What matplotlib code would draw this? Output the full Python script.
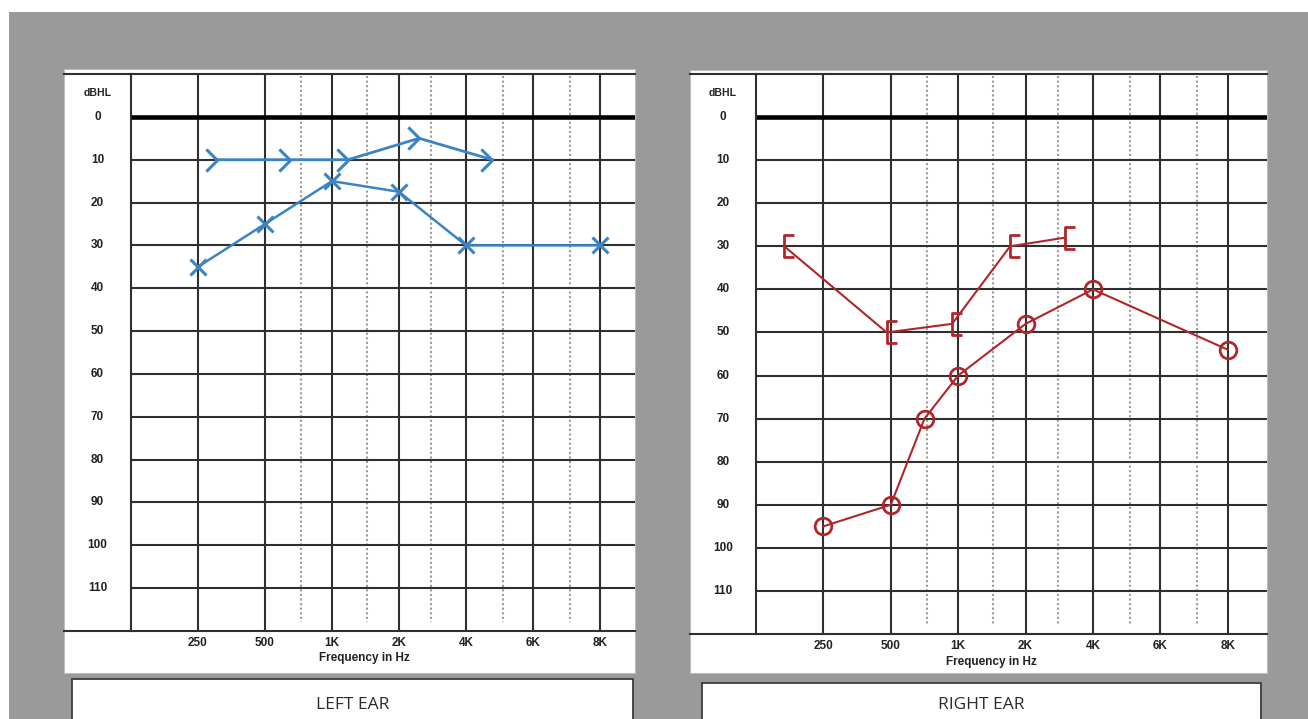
import matplotlib.pyplot as plt
from matplotlib.patches import Rectangle
from matplotlib.path import Path
from matplotlib.lines import Line2D

# frequency columns on the audiogram (index positions 1..7)
freq_labels = ['250', '500', '1K', '2K', '4K', '6K', '8K']
db_levels = [0, 10, 20, 30, 40, 50, 60, 70, 80, 90, 100, 110]

# left ear (blue): air conduction X, bone conduction >
left_air_x = [1, 2, 3, 4, 5, 7]
left_air_db = [35, 25, 15, 17.5, 30, 30]
left_bone_x = [1.28, 2.37, 3.24, 4.3, 5.39]
left_bone_db = [10, 10, 10, 5, 10]

# right ear (red): air conduction O, bone conduction [
right_air_x = [1, 2, 2.5, 3, 4, 5, 7]
right_air_db = [95, 90, 70, 60, 48, 40, 54]
right_bone_x = [0.42, 1.94, 2.91, 3.77, 4.58]
right_bone_db = [30, 50, 48, 30, 28]

W, H = 1308, 719
BLUE = '#3a84c6'
RED = '#b0262b'
GRID = '#2f2f2f'


def fx(x):
    return x / W


def fy(y):
    return 1 - y / H


chevron = Path([(-1, 1), (0, 0), (-1, -1)], [Path.MOVETO, Path.LINETO, Path.LINETO])
bracket = Path([(0.9, 1), (0, 1), (0, -1), (0.9, -1)],
               [Path.MOVETO, Path.LINETO, Path.LINETO, Path.LINETO])

fig = plt.figure(figsize=(W / 100, H / 100), dpi=100, facecolor='white')

# gray backdrop and white sheets
fig.patches.append(Rectangle((fx(9), 0), 1, fy(12), transform=fig.transFigure,
                             facecolor='#9a9a9a', edgecolor='none', zorder=-3))
for x0, x1, y0, y1 in [(64, 635, 69, 673), (690, 1267, 70, 673)]:
    fig.patches.append(Rectangle((fx(x0), fy(y1)), fx(x1 - x0), (y1 - y0) / H,
                                 transform=fig.transFigure, facecolor='white',
                                 edgecolor='#bdbdbd', lw=0.8, zorder=-2))
for x0, x1, y0, title in [(72, 633, 679, 'LEFT EAR'), (702, 1261, 683, 'RIGHT EAR')]:
    fig.patches.append(Rectangle((fx(x0), fy(730)), fx(x1 - x0), (730 - y0) / H,
                                 transform=fig.transFigure, facecolor='white',
                                 edgecolor='#3c3c3c', lw=1.3, zorder=-2))
    fig.text(fx((x0 + x1) / 2), fy(705), title, ha='center', va='center',
             fontsize=12.5, family='Open Sans', color='#2a2a2a')


def audiogram(rect, xmax, colw):
    ax = fig.add_axes(rect)
    ax.set_zorder(2)
    ax.set_facecolor('white')
    ax.set_xlim(0, xmax)
    ax.set_ylim(120, -10)
    ax.set_xticks([])
    ax.set_yticks([])
    for s in ['left', 'top', 'bottom']:
        ax.spines[s].set_linewidth(1.5)
        ax.spines[s].set_color(GRID)
    ax.spines['right'].set_visible(False)

    for i in range(1, len(freq_labels) + 1):
        ax.axvline(i, color=GRID, lw=1.5, zorder=1)
    ax.vlines([2.53, 3.52, 4.48, 5.55, 6.55], -9.5, 118, colors='#a39893',
              linestyles=(0, (1, 1.2)), lw=1.5, zorder=1)
    for d in db_levels[1:]:
        ax.axhline(d, color=GRID, lw=1.5, zorder=1)
    ax.axhline(0, color='black', lw=3.3, zorder=2)

    # top and bottom borders run across the label column too
    for d in [-10, 120]:
        ax.add_line(Line2D([-colw, 0], [d, d], color=GRID, lw=1.5,
                           transform=ax.get_yaxis_transform(), clip_on=False))

    lx = -colw / 2
    for d in db_levels:
        ax.text(lx, d, str(d), transform=ax.get_yaxis_transform(), ha='center',
                va='center', fontsize=8.5, fontweight='bold', family='Liberation Sans',
                color='#222222', clip_on=False)
    ax.text(lx, -5.6, 'dBHL', transform=ax.get_yaxis_transform(), ha='center',
            va='center', fontsize=7.5, fontweight='bold', family='Liberation Sans',
            color='#222222', clip_on=False)
    for i, lab in enumerate(freq_labels):
        ax.text(i + 1, 122.9, lab, ha='center', va='center', fontsize=8.5,
                fontweight='bold', family='Liberation Sans', color='#222222',
                clip_on=False)
    ax.text(3.49, 126.4, 'Frequency in Hz', ha='center', va='center', fontsize=8.5,
            fontweight='bold', family='Liberation Sans', color='#222222',
            clip_on=False)
    return ax


axL = audiogram([fx(131), fy(631), fx(635 - 131), (631 - 74) / H], 504 / 67.0, 67 / 504)
axR = audiogram([fx(756), fy(634), fx(1267 - 756), (634 - 74) / H], 511 / 67.4, 66 / 511)

axL.plot(left_air_x, left_air_db, color=BLUE, lw=1.8, marker='x', ms=12, mew=2.2, zorder=5)
axL.plot(left_bone_x, left_bone_db, color=BLUE, lw=2.0, marker=chevron, ms=16,
         mew=2.2, fillstyle='none', zorder=5)

axR.plot(right_air_x, right_air_db, color=RED, lw=1.5, marker='o', ms=12, mew=2,
         mfc='none', zorder=5)
axR.plot(right_bone_x, right_bone_db, color=RED, lw=1.5, marker=bracket, ms=16,
         mew=2, fillstyle='none', zorder=5)

fig.savefig('out.png', dpi=100, facecolor=fig.get_facecolor())
